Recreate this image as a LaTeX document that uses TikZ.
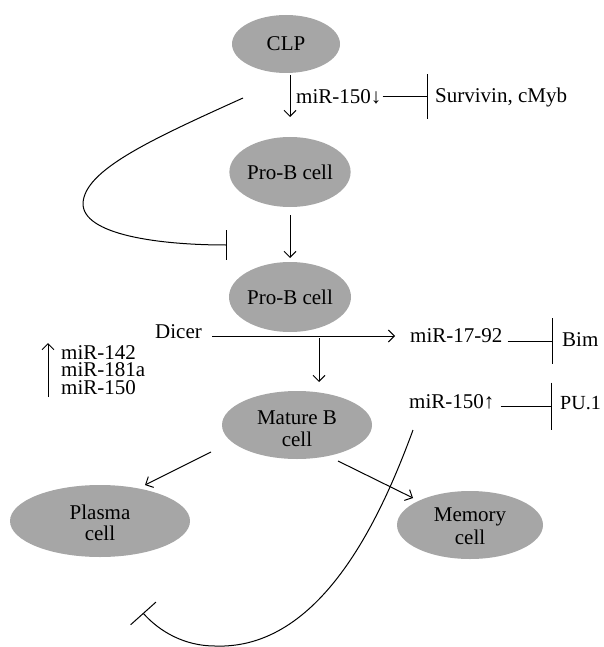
\documentclass[tikz,border=0pt]{standalone}
\usepackage{fontspec}
\setmainfont{Liberation Serif}
\usetikzlibrary{arrows.meta,shapes.geometric}
\definecolor{cellgray}{HTML}{A6A6A6}
\begin{document}
\begin{tikzpicture}[x=1pt,y=-1pt,
  cellnode/.style={ellipse,fill=cellgray,draw=none,inner sep=0pt,font=\fontsize{21}{22}\selectfont,align=center},
  celltext/.style={align=center,inner sep=0pt},
  lbl/.style={anchor=west,inner sep=0pt,font=\fontsize{21}{22}\selectfont},
  arr/.style={line width=1pt,-{Straight Barb[length=6pt,width=12pt,line width=1pt]}},
  inhib/.style={line width=1pt,-{Bar[width=#1,line width=1pt]}},
  inhib/.default=45pt]
\useasboundingbox (0,0) rectangle (603,647);
% cell nodes
\node[cellnode,minimum width=108pt,minimum height=58pt] (clp) at (286,44) {CLP};
\node[cellnode,minimum width=116pt,minimum height=70pt] (prob1) at (290,172) {Pro-B cell};
\node[cellnode,minimum width=122pt,minimum height=70pt] (prob2) at (290,297) {Pro-B cell};
\node[cellnode,minimum width=150pt,minimum height=68pt] (mature) at (297,425) {};
\node[celltext,font=\fontsize{21}{22}\selectfont] (maturet) at (297,429) {Mature B\\cell};
\node[cellnode,minimum width=180pt,minimum height=72pt] (plasma) at (100,521) {};
\node[celltext,font=\fontsize{21}{21}\selectfont] (plasmat) at (100,523) {Plasma\\cell};
\node[cellnode,minimum width=146pt,minimum height=68pt] (memory) at (470,525) {};
\node[celltext,font=\fontsize{21}{23}\selectfont] (memoryt) at (470,526) {Memory\\cell};
% labels
\node[lbl] (mira) at (296,97) {miR-150↓};
\node[lbl] (surv) at (435,97) {Survivin, cMyb};
\node[lbl] (dicer) at (155,332) {Dicer};
\node[lbl] (mir17) at (410,336) {miR-17-92};
\node[lbl] (bim) at (562,340) {Bim};
\node[lbl] (mirb) at (409,402) {miR-150↑};
\node[lbl,font=\fontsize{20}{22}\selectfont] (pu) at (560,403) {PU.1};
\node[lbl,align=left,font=\fontsize{21}{17.5}\selectfont] (list) at (61,370) {miR-142\\miR-181a\\miR-150};
% coordinates
\coordinate (a1s) at (290,75);
\coordinate (a1e) at (290,117);
\coordinate (a2s) at (290,215);
\coordinate (a2e) at (290,258);
\coordinate (ds) at (212,336);
\coordinate (de) at (395,336);
\coordinate (a3s) at (319,338);
\coordinate (a3e) at (319,382);
\coordinate (ups) at (48,397);
\coordinate (upe) at (48,343);
\coordinate (mps) at (211,452);
\coordinate (mpe) at (145,485);
\coordinate (mms) at (338,461);
\coordinate (mme) at (413,498);
\coordinate (ba) at (428,97);
\coordinate (bb) at (553,341);
\coordinate (bc) at (552,406);
\coordinate (c1s) at (243,98);
\coordinate (c1m) at (83,203);
\coordinate (c1e) at (227,245);
\coordinate (c2s) at (413,430);
\coordinate (c2m) at (215,646);
\coordinate (c2e) at (143,613);
% arrows
\draw[arr] (a1s) -- (a1e);
\draw[arr] (a2s) -- (a2e);
\draw[arr] (ds) -- (de);
\draw[arr] (a3s) -- (a3e);
\draw[arr] (ups) -- (upe);
\draw[arr] (mps) -- (mpe);
\draw[arr] (mms) -- (mme);
% inhibitions
\draw[inhib=45pt] ([xshift=1pt]mira.east |- ba) -- (ba);
\draw[inhib=46pt] ([xshift=5pt]mir17.east |- bb) -- (bb);
\draw[inhib=47pt] ([xshift=6pt]mirb.east |- bc) -- (bc);
\draw[inhib=30pt] (c1s) .. controls (150,140) and (85,170) .. (c1m) .. controls (82,235) and (160,245) .. (c1e);
\draw[inhib=34pt] (c2s) .. controls (380,520) and (320,650) .. (c2m) .. controls (185,646) and (160,632) .. (c2e);
\end{tikzpicture}
\end{document}
